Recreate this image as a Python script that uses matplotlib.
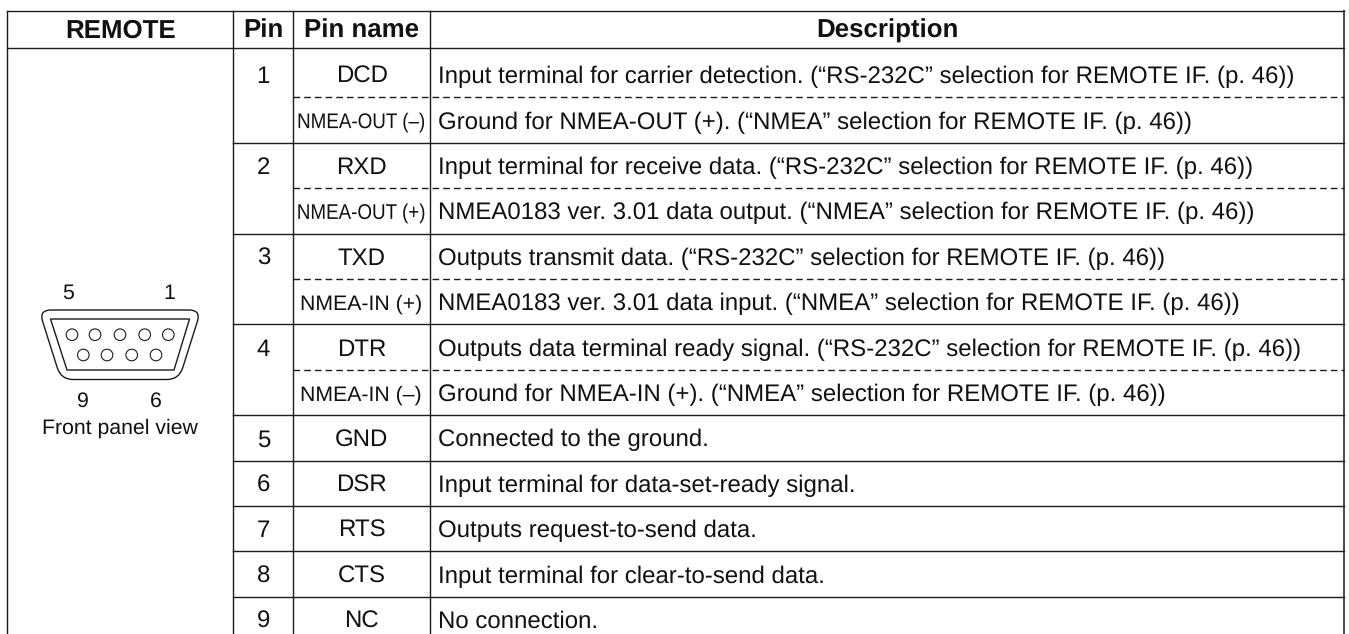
import matplotlib
matplotlib.use("Agg")
import matplotlib.pyplot as plt
from matplotlib.path import Path
from matplotlib.patches import PathPatch, Circle
from matplotlib.patheffects import AbstractPathEffect
from matplotlib.transforms import Affine2D

plt.rcParams['font.family'] = ['Liberation Sans', 'DejaVu Sans']
plt.rcParams['text.hinting'] = 'no_hinting'

headers = ["REMOTE", "Pin", "Pin name", "Description"]
pins = ["1", "2", "3", "4", "5", "6", "7", "8", "9"]
names = ["DCD", "NMEA-OUT (–)", "RXD", "NMEA-OUT (+)", "TXD", "NMEA-IN (+)", "DTR", "NMEA-IN (–)",
         "GND", "DSR", "RTS", "CTS", "NC"]
descriptions = [
    "Input terminal for carrier detection. (“RS-232C” selection for REMOTE IF. (p. 46))",
    "Ground for NMEA-OUT (+). (“NMEA” selection for REMOTE IF. (p. 46))",
    "Input terminal for receive data. (“RS-232C” selection for REMOTE IF. (p. 46))",
    "NMEA0183 ver. 3.01 data output. (“NMEA” selection for REMOTE IF. (p. 46))",
    "Outputs transmit data. (“RS-232C” selection for REMOTE IF. (p. 46))",
    "NMEA0183 ver. 3.01 data input. (“NMEA” selection for REMOTE IF. (p. 46))",
    "Outputs data terminal ready signal. (“RS-232C” selection for REMOTE IF. (p. 46))",
    "Ground for NMEA-IN (+). (“NMEA” selection for REMOTE IF. (p. 46))",
    "Connected to the ground.",
    "Input terminal for data-set-ready signal.",
    "Outputs request-to-send data.",
    "Input terminal for clear-to-send data.",
    "No connection.",
]
connector_top = ["5", "1"]
connector_bottom = ["9", "6"]

W, H = 1349, 634
# table grid, in pixels of the page
col_x = [7.3, 233.3, 293.3, 430, 1344.3]
top, head_y = 11, 48.3
first_y = 52
row_h = 45.4
fs = 17.3
small_fs = 15.3
ink = "#1c1c1c"
lw = 1.0


class Squeeze(AbstractPathEffect):
    # narrow the glyphs around a centre x, the text stays a normal Text
    def __init__(self, cx, sx):
        super().__init__()
        self.cx, self.sx = cx, sx

    def draw_path(self, renderer, gc, tpath, affine, rgbFace=None):
        t = affine + Affine2D().translate(-self.cx, 0).scale(self.sx, 1).translate(self.cx, 0)
        renderer.draw_path(gc, tpath, t, rgbFace)


fig = plt.figure(figsize=(W / 100, H / 100), dpi=100)
ax = fig.add_axes([0, 0, 1, 1])
ax.set_xlim(0, W)
ax.set_ylim(H, 0)
ax.axis("off")

# frame and column lines
for x in col_x[:-1]:
    ax.plot([x, x], [top, H], color=ink, lw=lw)
ax.plot([col_x[-1], col_x[-1]], [top, H], color="#4a4a4a", lw=1.4)
ax.plot([col_x[0], col_x[-1]], [top, top], color=ink, lw=lw)
ax.plot([col_x[0], col_x[-1]], [head_y, head_y], color=ink, lw=lw)

# header
centers = [(col_x[i] + col_x[i + 1]) / 2 for i in range(4)]
for c, h in zip(centers, headers):
    ax.text(c, 37.3, h, ha="center", va="baseline", fontsize=18.6, fontweight="bold", color="#111111")

# rows: 1-4 carry two lines each, 5-9 one
y = first_y
row = 0
for i, p in enumerate(pins):
    n_lines = 2 if i < 4 else 1
    ax.text(centers[1], y + row_h / 2 + 8.5, p, ha="center", va="baseline", fontsize=fs, color="#111111")
    for j in range(n_lines):
        base = y + row_h * (j + 0.5) + 8.5
        nm = names[row]
        if nm.startswith("NMEA"):
            t = ax.text(centers[2] - 0.5, base - 0.5, nm, ha="center", va="baseline", fontsize=small_fs,
                        color="#111111")
            if "OUT" in nm:
                t.set_path_effects([Squeeze(centers[2] - 0.5, 0.885)])
        else:
            ax.text(centers[2], base, nm, ha="center", va="baseline", fontsize=fs, color="#111111")
        ax.text(col_x[3] + 8, base, descriptions[row], ha="left", va="baseline", fontsize=fs, color="#111111")
        if j == 0 and n_lines == 2:
            ax.plot([col_x[2], col_x[-1]], [y + row_h, y + row_h], color=ink, lw=lw, dashes=(4.8, 2.9))
        row += 1
    y += row_h * n_lines
    if i < len(pins) - 1:
        ax.plot([col_x[1], col_x[-1]], [y, y], color=ink, lw=lw)


def rounded(corners, r):
    # closed path through the corners, each corner rounded with a quadratic
    verts, codes = [], []
    n = len(corners)
    for i, (cx, cy) in enumerate(corners):
        px, py = corners[i - 1]
        qx, qy = corners[(i + 1) % n]
        d1 = ((px - cx) ** 2 + (py - cy) ** 2) ** 0.5
        d2 = ((qx - cx) ** 2 + (qy - cy) ** 2) ** 0.5
        a = (cx + (px - cx) * r / d1, cy + (py - cy) * r / d1)
        b = (cx + (qx - cx) * r / d2, cy + (qy - cy) * r / d2)
        verts += [a, (cx, cy), b]
        codes += [Path.MOVETO if i == 0 else Path.LINETO, Path.CURVE3, Path.CURVE3]
    verts.append(verts[0])
    codes.append(Path.CLOSEPOLY)
    return Path(verts, codes)


# D-sub connector drawing
ax.add_patch(PathPatch(rounded([(39, 310), (201, 310), (179, 379.5), (61, 379.5)], 12),
                       fc="none", ec=ink, lw=lw))
ax.add_patch(PathPatch(Path([(50.5, 319), (189.5, 319), (174, 370), (67, 370), (50.5, 319)],
                            [Path.MOVETO, Path.LINETO, Path.LINETO, Path.LINETO, Path.CLOSEPOLY]),
                       fc="none", ec=ink, lw=lw))
for hx in [72, 95, 120, 144.7, 168.3]:
    ax.add_patch(Circle((hx, 334.7), 5.8, fc="none", ec=ink, lw=0.8))
for hx in [83.3, 107, 131.7, 156]:
    ax.add_patch(Circle((hx, 355), 5.8, fc="none", ec=ink, lw=0.8))
for lx, t in zip([68, 169], connector_top):
    ax.text(lx, 299, t, ha="center", va="baseline", fontsize=small_fs, color="#111111")
for lx, t in zip([83, 156], connector_bottom):
    ax.text(lx, 406.7, t, ha="center", va="baseline", fontsize=small_fs, color="#111111")
ax.text(120, 434, "Front panel view", ha="center", va="baseline", fontsize=small_fs, color="#111111")

fig.savefig("out.png", dpi=100)
